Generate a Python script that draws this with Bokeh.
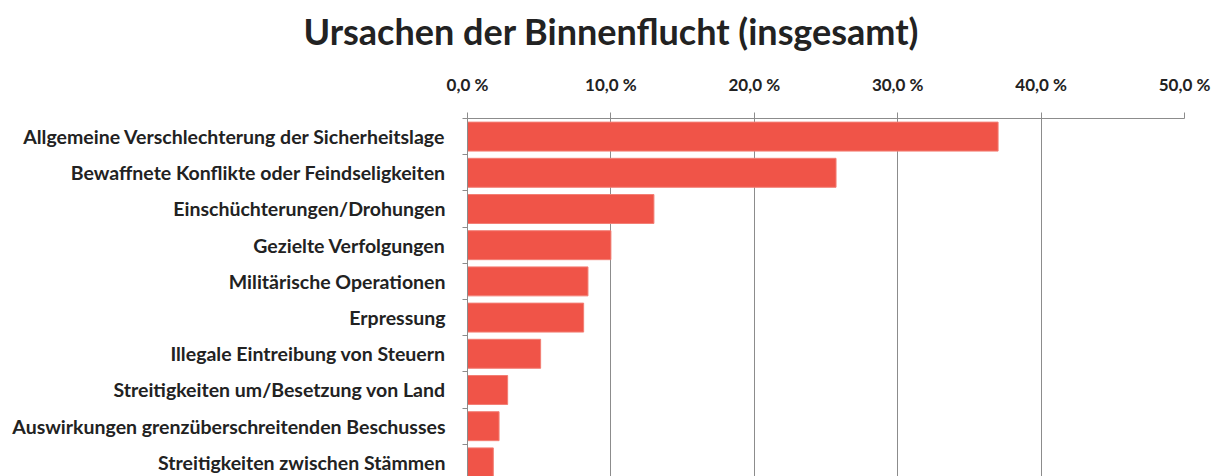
from bokeh.plotting import figure
from bokeh.models import Range1d, FixedTicker, ColumnDataSource, Title
from bokeh.embed import file_html
from bokeh.resources import INLINE

categories = [
    "Allgemeine Verschlechterung der Sicherheitslage",
    "Bewaffnete Konflikte oder Feindseligkeiten",
    "Einschüchterungen/Drohungen",
    "Gezielte Verfolgungen",
    "Militärische Operationen",
    "Erpressung",
    "Illegale Eintreibung von Steuern",
    "Streitigkeiten um/Besetzung von Land",
    "Auswirkungen grenzüberschreitenden Beschusses",
    "Streitigkeiten zwischen Stämmen",
]
values = [37.0, 25.7, 13.0, 10.0, 8.4, 8.1, 5.1, 2.8, 2.2, 1.8]
x_ticks = [0, 10, 20, 30, 40, 50]
x_tick_labels = ["0,0 %", "10,0 %", "20,0 %", "30,0 %", "40,0 %", "50,0 %"]

FONT = "Lato"
TEXT = "#222222"
GRID = "#8c8c8c"
BAR = "#F05448"

idx = list(range(len(categories)))
src = ColumnDataSource(dict(y=idx, v=values))

p = figure(
    width=1227, height=476, output_backend="svg", toolbar_location=None,
    x_range=Range1d(0, 50), y_range=Range1d(len(categories) - 0.61, -0.5),
    x_axis_location="above",
    min_border_left=467, min_border_right=43, min_border_top=118, min_border_bottom=0,
    title="Ursachen der Binnenflucht (insgesamt)",
)
p.outline_line_color = None
p.background_fill_color = "white"

p.title.align = "left"
p.title.offset = -164
p.title.text_font = FONT
p.title.text_font_size = "36px"
p.title.text_font_style = "bold"
p.title.text_color = TEXT
p.title.standoff = 12

# blank spacer between title and top axis
p.add_layout(Title(text=" ", text_font_size="1px", standoff=9), "above")

p.hbar(y="y", right="v", left=0, height=0.8, source=src,
       fill_color=BAR, line_color="#F37E74", line_width=1)

xa = p.xaxis[0]
xa.ticker = FixedTicker(ticks=x_ticks)
xa.major_label_overrides = {t: l for t, l in zip(x_ticks, x_tick_labels)}
xa.major_label_text_font = FONT
xa.major_label_text_font_size = "17px"
xa.major_label_text_font_style = "bold"
xa.major_label_text_color = TEXT
xa.axis_line_color = GRID
xa.major_tick_line_color = GRID
xa.major_tick_out = 6
xa.major_tick_in = 0
xa.minor_tick_line_color = None
xa.major_label_standoff = 18

ya = p.yaxis[0]
ya.ticker = FixedTicker(ticks=idx, minor_ticks=[i - 0.5 for i in range(len(categories) + 1)])
ya.major_label_overrides = {i: c for i, c in zip(idx, categories)}
ya.major_label_text_font = FONT
ya.major_label_text_font_size = "19.5px"
ya.major_label_text_font_style = "bold"
ya.major_label_text_color = TEXT
ya.axis_line_color = GRID
ya.major_tick_line_color = None
ya.major_tick_out = 0
ya.major_tick_in = 0
ya.minor_tick_line_color = GRID
ya.minor_tick_out = 5
ya.minor_tick_in = 0
ya.major_label_standoff = 17

p.xgrid.ticker = FixedTicker(ticks=x_ticks[1:])
p.xgrid.grid_line_color = GRID
p.xgrid.grid_line_width = 1
p.ygrid.grid_line_color = None

open("out.html", "w").write(file_html(p, INLINE))
